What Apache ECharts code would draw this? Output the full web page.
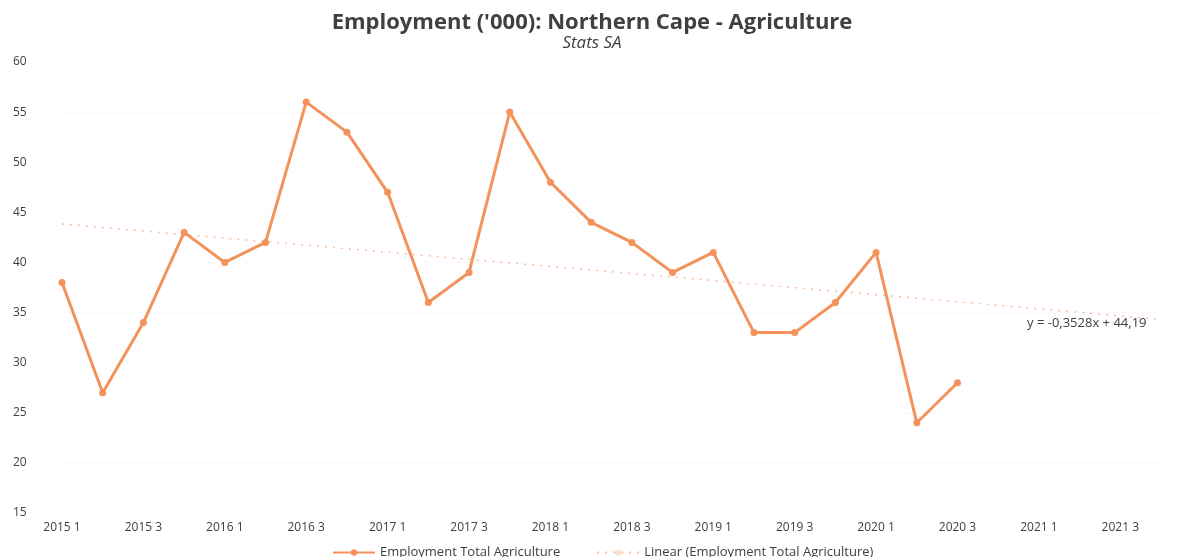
<!DOCTYPE html>
<html>
<head>
<meta charset="utf-8">
<script src="https://cdn.jsdelivr.net/npm/echarts@6/dist/echarts.min.js"></script>
<style>html,body{margin:0;padding:0;background:#fff}#c{width:1184px;height:557px}</style>
</head>
<body>
<div id="c"></div>
<script>
const categories = ['2015 1','2015 2','2015 3','2015 4','2016 1','2016 2','2016 3','2016 4','2017 1','2017 2','2017 3','2017 4','2018 1','2018 2','2018 3','2018 4','2019 1','2019 2','2019 3','2019 4','2020 1','2020 2','2020 3','2020 4','2021 1','2021 2','2021 3','2021 4'];
const employment = [38,27,34,43,40,42,56,53,47,36,39,55,48,44,42,39,41,33,33,36,41,24,28];
const trendPoints = [[0,43.84],[27,34.31]];
const trendLabel = 'y = -0,3528x + 44,19';
const yTicks = {min:15, max:60, interval:5};

const chart = echarts.init(document.getElementById('c'));
chart.setOption({
  backgroundColor:'#fff',
  animation:false,
  title:{
    text:"Employment ('000): Northern Cape - Agriculture",
    subtext:'Stats SA',
    left:'center', top:7, itemGap:1,
    textStyle:{fontFamily:'Open Sans', fontSize:22, fontWeight:'bold', color:'#404040'},
    subtextStyle:{fontFamily:'Open Sans', fontSize:17, fontStyle:'italic', color:'#404040'}
  },
  grid:{left:62, right:23, top:62, bottom:44},
  legend:{
    bottom:-7, left:327, itemGap:36, itemWidth:42, itemHeight:8,
    textStyle:{fontFamily:'Open Sans', fontSize:13, color:'#404040'},
    data:[{name:'Employment Total Agriculture'},{name:'Linear (Employment Total Agriculture)'}]
  },
  xAxis:{
    type:'category', data:categories, boundaryGap:false,
    axisLine:{show:false}, axisTick:{show:false},
    axisLabel:{interval:1, fontFamily:'Open Sans', fontSize:12, color:'#404040', margin:9}
  },
  yAxis:{
    type:'value', min:yTicks.min, max:yTicks.max, interval:yTicks.interval,
    axisLine:{show:false}, axisTick:{show:false},
    splitLine:{show:true, lineStyle:{color:'#f9f9f9'}},
    axisLabel:{fontFamily:'Open Sans', fontSize:12, color:'#404040', align:'left', margin:49}
  },
  graphic:[{type:'text', left:1027, top:317, style:{text:trendLabel, font:'13px "Open Sans"', fill:'#404040'}}],
  series:[
    {
      name:'Employment Total Agriculture', type:'line', data:employment,
      lineStyle:{color:'#F4925C', width:3},
      itemStyle:{color:'#F4925C'},
      symbol:'circle', symbolSize:7, z:3
    },
    {
      name:'Linear (Employment Total Agriculture)', type:'line', data:trendPoints,
      lineStyle:{color:'#F6B48C', width:1.5, type:[2,6], opacity:0.85},
      itemStyle:{color:'#FBE3D3'},
      symbol:'none', z:2
    }
  ]
});
</script>
</body>
</html>
